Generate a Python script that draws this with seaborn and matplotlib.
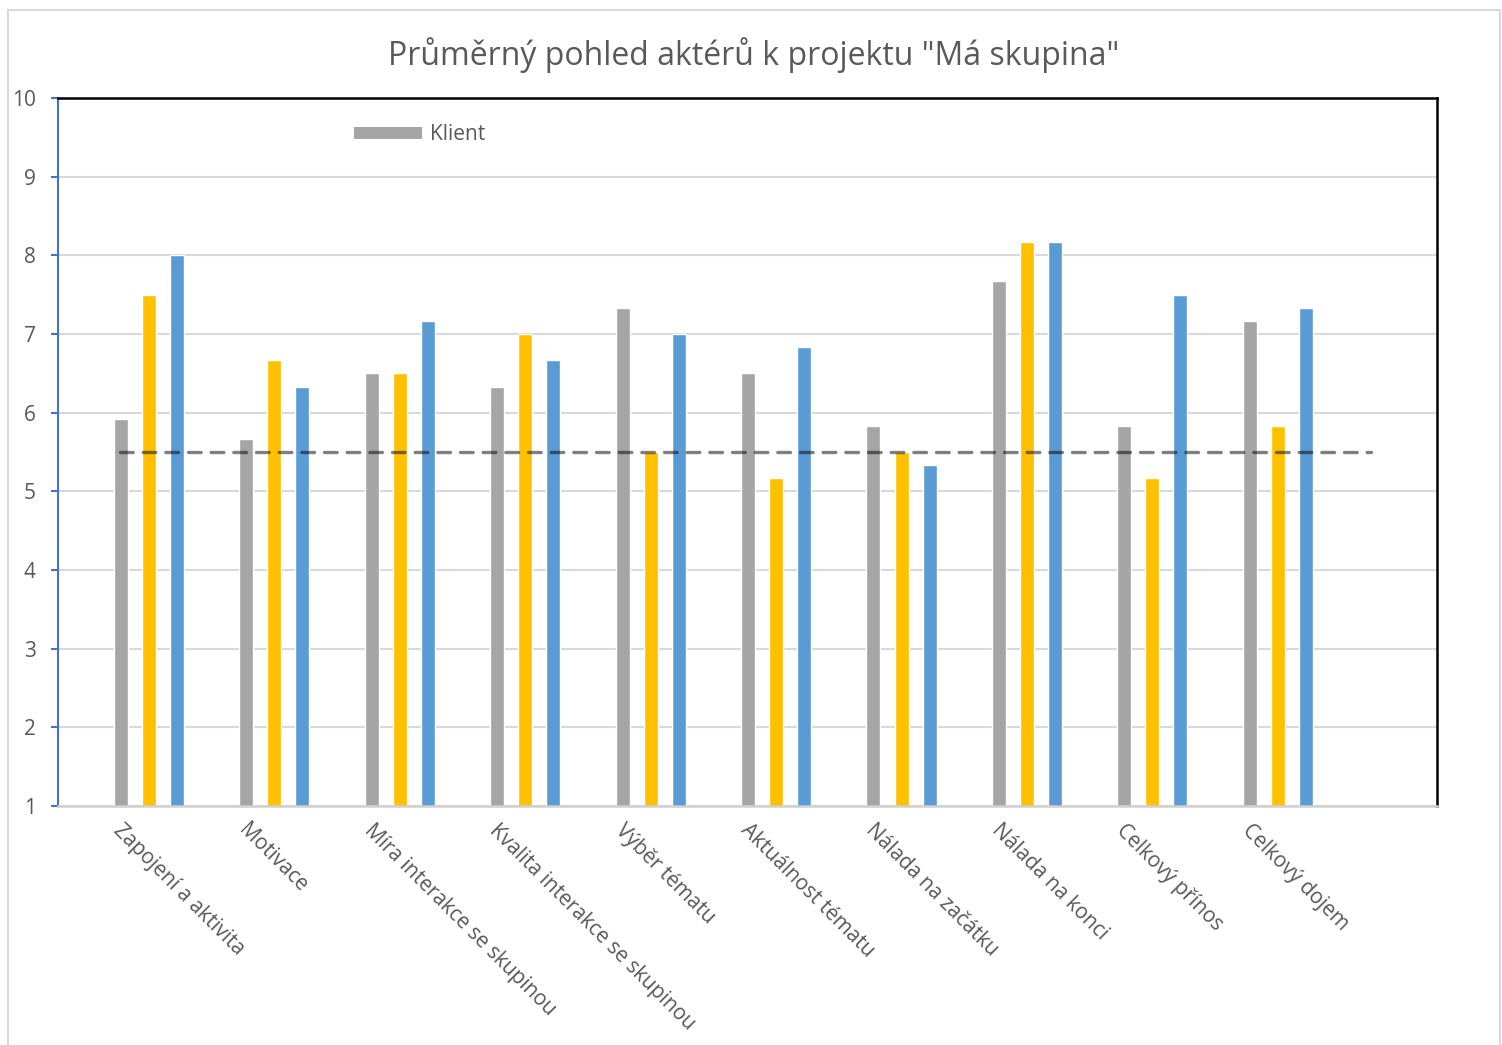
import matplotlib
matplotlib.use("Agg")
import matplotlib.pyplot as plt
import matplotlib.transforms as mtransforms
from matplotlib.patches import Patch, Rectangle
import seaborn as sns
import pandas as pd

# <--- data --->
categories = [
    "Zapojení a aktivita",
    "Motivace",
    "Míra interakce se skupinou",
    "Kvalita interakce se skupinou",
    "Výběr tématu",
    "Aktuálnost tématu",
    "Nálada na začátku",
    "Nálada na konci",
    "Celkový přínos",
    "Celkový dojem",
]
series_names = ["Klient", "Řada 2", "Řada 3"]
klient = [5.92, 5.67, 6.5, 6.33, 7.33, 6.5, 5.83, 7.67, 5.83, 7.17]
rada2 = [7.5, 6.67, 6.5, 7.0, 5.5, 5.17, 5.5, 8.17, 5.17, 5.83]
rada3 = [8.0, 6.33, 7.17, 6.67, 7.0, 6.83, 5.33, 8.17, 7.5, 7.33]
reference_level = 5.5
y_ticks = list(range(1, 11))
fig_title = 'Průměrný pohled aktérů k projektu "Má skupina"'

colors = ["#A5A5A5", "#FFC000", "#5B9BD5"]
text_color = "#595959"

# long table for seaborn
rows = []
for name, vals in zip(series_names, [klient, rada2, rada3]):
    for cat, v in zip(categories, vals):
        rows.append({"kategorie": cat, "aktér": name, "hodnota": v})
df = pd.DataFrame(rows)

sns.set_style("white")
plt.rcParams["font.family"] = ["Open Sans", "DejaVu Sans"]

fig = plt.figure(figsize=(15.02, 10.45), dpi=100)
ax = fig.add_axes([58 / 1502, 1 - 806 / 1045, 1379 / 1502, 708 / 1045])

sns.barplot(
    data=df, x="kategorie", y="hodnota", hue="aktér",
    order=categories, hue_order=series_names, palette=colors,
    width=0.67, gap=0.5, dodge=True, legend=False, ax=ax,
    saturation=1, zorder=2,
)

# dashed reference line
ax.plot([-0.23, 9.74], [reference_level, reference_level], color="black",
        alpha=0.5, linewidth=2.4, dashes=(3.8, 3.0), dash_capstyle="round",
        zorder=3)

ax.set_xlim(-0.726, 10.27)
ax.set_ylim(1, 10)
ax.set_yticks(y_ticks)
ax.yaxis.grid(True, color="#d9d9d9", linewidth=1.5, zorder=0)
ax.set_axisbelow(True)
ax.set_xlabel("")
ax.set_ylabel("")

# spines
ax.spines["left"].set_color("#4472C4")
ax.spines["left"].set_linewidth(1.5)
for s in ["top", "right"]:
    ax.spines[s].set_color("black")
    ax.spines[s].set_linewidth(1.8)
ax.spines["bottom"].set_color("#d0d0d0")
ax.spines["bottom"].set_linewidth(1.8)

ax.tick_params(axis="y", length=5, width=1.5, color="#4472C4", pad=11,
               labelsize=15, labelcolor=text_color, left=True)
ax.tick_params(axis="x", length=0, pad=10, labelsize=15, labelcolor=text_color)

ax.set_xticks(range(len(categories)))
ax.set_xticklabels(categories, rotation=-45, ha="left", va="top",
                   rotation_mode="anchor")
offset = mtransforms.ScaledTranslation(-0.25, 0, fig.dpi_scale_trans)
for lbl in ax.get_xticklabels():
    lbl.set_transform(lbl.get_transform() + offset)

# legend only for Klient
handle = Patch(facecolor=colors[0], edgecolor="none", label=series_names[0])
ax.legend(handles=[handle], loc="center left", bbox_to_anchor=(0.2146, 0.948),
          frameon=False, fontsize=15, labelcolor=text_color,
          handlelength=3.27, handleheight=0.48, handletextpad=0.38,
          borderpad=0, borderaxespad=0)

fig.text(754 / 1502, 1 - 55 / 1045, fig_title, ha="center", va="center",
         fontsize=23, color=text_color)

# chart border
fig.add_artist(Rectangle((8 / 1502, -0.05), (1500 - 8) / 1502,
                         1 - 10 / 1045 + 0.05, transform=fig.transFigure,
                         fill=False, edgecolor="#d9d9d9", linewidth=1.5))

plt.savefig("out.png", dpi=100)
